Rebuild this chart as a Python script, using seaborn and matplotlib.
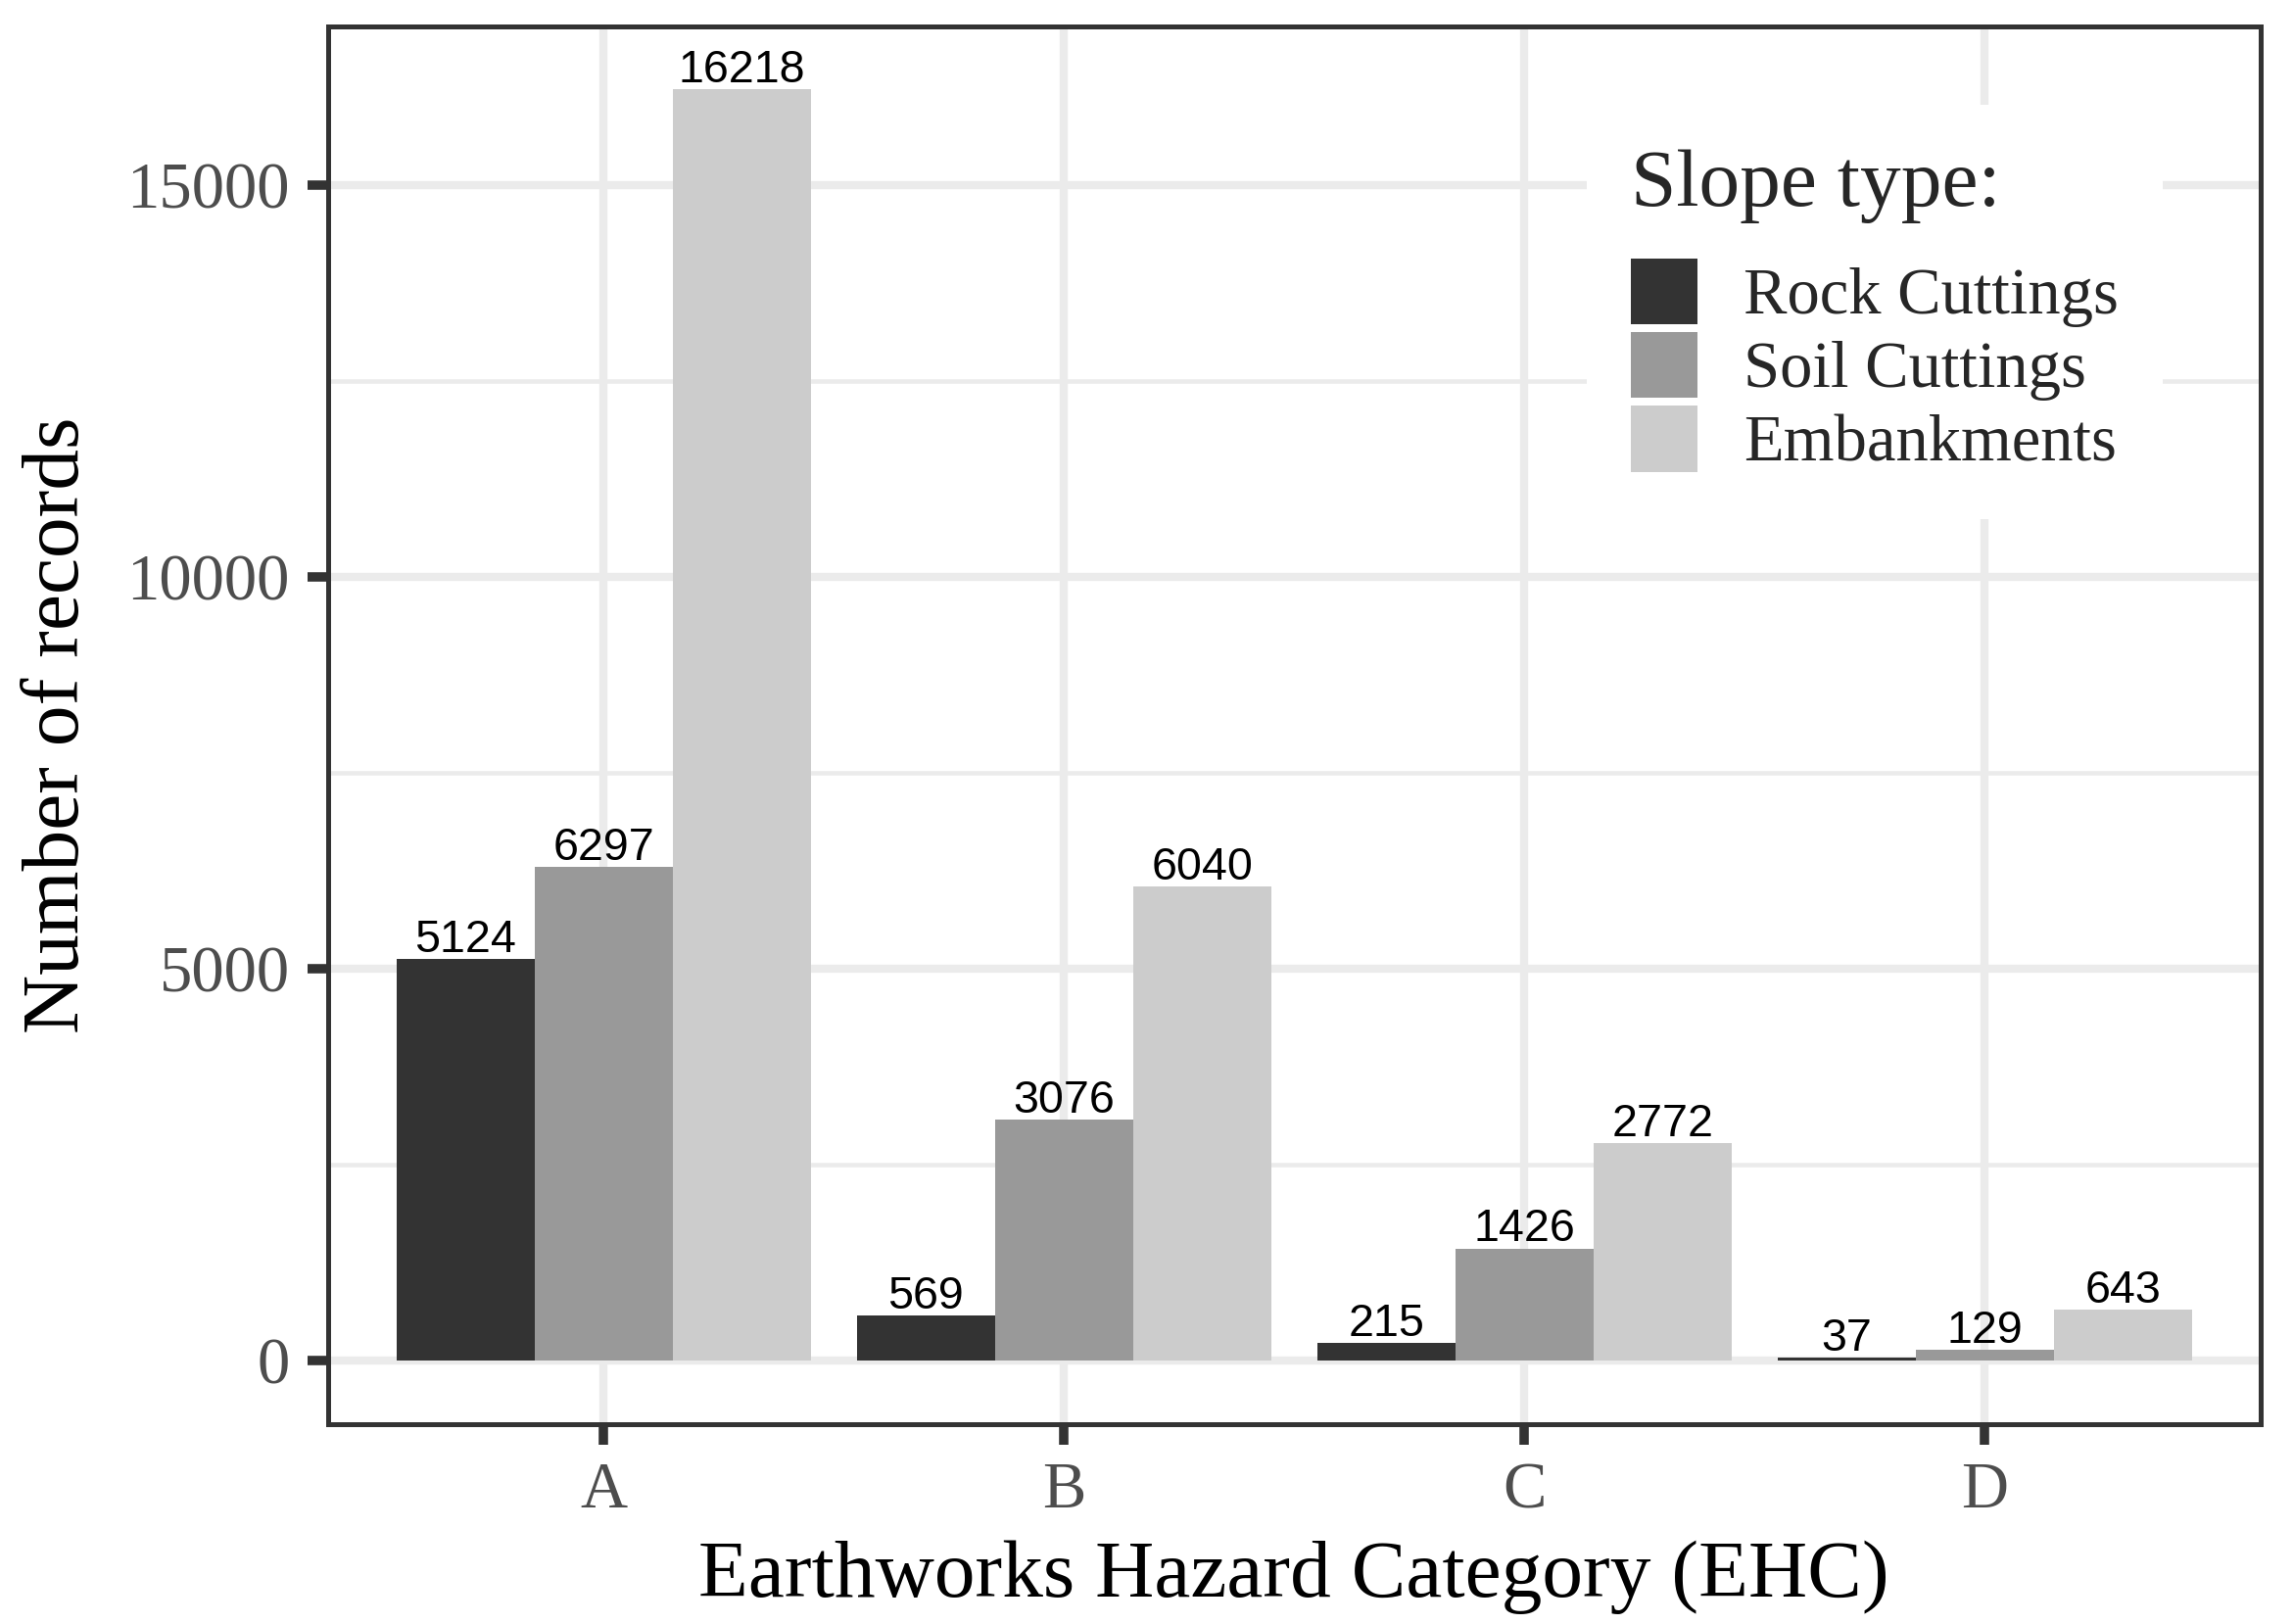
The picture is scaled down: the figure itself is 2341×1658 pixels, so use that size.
import numpy as np
import pandas as pd
import matplotlib
matplotlib.use("Agg")
import matplotlib.pyplot as plt
import seaborn as sns
from matplotlib.ticker import MultipleLocator

categories = ["A", "B", "C", "D"]
slope_types = ["Rock Cuttings", "Soil Cuttings", "Embankments"]
rock = [5124, 569, 215, 37]
soil = [6297, 3076, 1426, 129]
emb = [16218, 6040, 2772, 643]
colors = ["#333333", "#999999", "#CCCCCC"]

rows = []
for s, vals in zip(slope_types, [rock, soil, emb]):
    for c, v in zip(categories, vals):
        rows.append({"EHC": c, "Slope": s, "n": v})
df = pd.DataFrame(rows)

sns.set_theme(style="white")
plt.rcParams["font.family"] = ["Liberation Serif", "DejaVu Serif"]

W, H = 2341, 1658
fig = plt.figure(figsize=(W / 300, H / 300), dpi=300)
left, right = 334.5 / W, 2308 / W
bottom, top = 1 - 1453.5 / H, 1 - 26.5 / H
ax = fig.add_axes([left, bottom, right - left, top - bottom])

sns.barplot(data=df, x="EHC", y="n", hue="Slope", order=categories,
            hue_order=slope_types, palette=colors, width=0.9, gap=0,
            saturation=1, ax=ax, zorder=3, linewidth=0, edgecolor="none")

for cont in ax.containers:
    ax.bar_label(cont, fmt="%d", padding=-0.7, fontsize=11.2,
                 family=["Liberation Sans", "DejaVu Sans"], color="black",
                 zorder=4)

ymax = max(emb)
ax.set_ylim(-0.05 * ymax, 1.05 * ymax)
ax.set_xlim(-0.6, 3.6)
ax.yaxis.set_major_locator(MultipleLocator(5000))
ax.yaxis.set_minor_locator(MultipleLocator(2500))
ax.grid(True, which="major", color="#EBEBEB", linewidth=2.0, zorder=0)
ax.grid(True, which="minor", axis="y", color="#EBEBEB", linewidth=1.1, zorder=0)
ax.set_axisbelow(True)

for sp in ax.spines.values():
    sp.set_visible(True)
    sp.set_color("#333333")
    sp.set_linewidth(1.2)

ax.tick_params(axis="both", which="major", length=5, width=2.3,
               color="#333333", labelcolor="#4D4D4D", labelsize=16.0,
               direction="out", left=True, bottom=True, pad=4.3)
ax.tick_params(axis="y", which="minor", length=0)

ax.set_xlabel("Earthworks Hazard Category (EHC)", fontsize=20.0, color="black", labelpad=4.6)
ax.set_ylabel("Number of records", fontsize=20.0, color="black", labelpad=7.5)

handles, labels = ax.get_legend_handles_labels()
leg = ax.legend(handles, labels, title="Slope type:", loc="upper left",
                bbox_to_anchor=(1620 / W, 1 - 107 / H),
                bbox_transform=fig.transFigure,
                frameon=True, fancybox=False,
                facecolor="white", edgecolor="none", framealpha=1,
                fontsize=16.0, title_fontsize=20.0, handlelength=1.02,
                handleheight=1.18, labelspacing=0.075, handletextpad=0.7,
                borderpad=0.68, borderaxespad=0, alignment="left")
leg._legend_box.sep = 8.6
leg.set_zorder(5)

fig.savefig("out.png", dpi=300)
